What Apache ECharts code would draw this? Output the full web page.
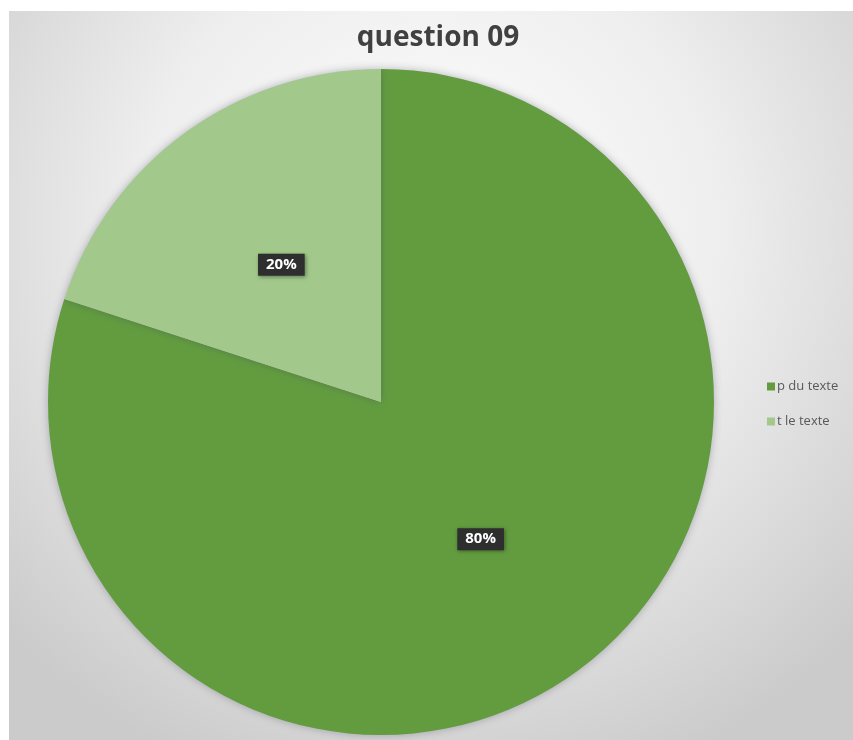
<!DOCTYPE html>
<html>
<head>
<meta charset="utf-8">
<script src="https://cdn.jsdelivr.net/npm/echarts@6/dist/echarts.min.js"></script>
<style>
html,body{margin:0;padding:0;background:#fff;}
#chart{width:853px;height:740px;}
</style>
</head>
<body>
<div id="chart"></div>
<script>
var titleText = 'question 09';
var categories = ['p du texte', 't le texte'];
var values = [80, 20];
var colors = ['#629c3f', '#a2c98b'];

var chart = echarts.init(document.getElementById('chart'), null, {renderer: 'canvas'});
var option = {
  animation: false,
  graphic: [{
    type: 'rect',
    z: -10,
    silent: true,
    shape: {x: 9, y: 11, width: 844, height: 729},
    style: {
      fill: new echarts.graphic.RadialGradient(0.5, 0.3, 0.8, [
        {offset: 0, color: '#ffffff'},
        {offset: 0.5, color: '#eeeeee'},
        {offset: 1, color: '#cbcbcb'}
      ])
    }
  }],
  title: {
    text: titleText,
    left: 433,
    top: 19,
    textAlign: 'center',
    textStyle: {
      fontFamily: 'Open Sans',
      fontWeight: 'bold',
      fontSize: 28,
      color: '#404040'
    }
  },
  legend: {
    orient: 'vertical',
    left: 762,
    top: 375,
    itemWidth: 8,
    itemHeight: 8,
    itemGap: 22,
    icon: 'rect',
    textStyle: {fontFamily: 'Open Sans', fontSize: 13, color: '#595959', padding: [0,0,0,-3]},
    data: categories
  },
  series: [{
    type: 'pie',
    center: [381, 402],
    radius: [0, 333],
    startAngle: 90,
    clockwise: true,
    data: categories.map(function(c, i){ return {name: c, value: values[i], itemStyle: {color: colors[i]}}; }),
    itemStyle: {
      borderWidth: 0,
      shadowBlur: 8,
      shadowColor: 'rgba(60,60,90,0.35)'
    },
    label: {
      position: 'inside',
      formatter: '{d}%',
      fontFamily: 'Open Sans',
      fontWeight: 'bold',
      fontSize: 15,
      color: '#ffffff',
      backgroundColor: '#2e2e2e',
      padding: [4, 8, 3, 8],
      shadowBlur: 4,
      shadowColor: 'rgba(0,0,0,0.4)',
      shadowOffsetX: 1,
      shadowOffsetY: 1
    },
    labelLine: {show: false},
    emphasis: {disabled: true}
  }]
};
chart.setOption(option);
</script>
</body>
</html>
